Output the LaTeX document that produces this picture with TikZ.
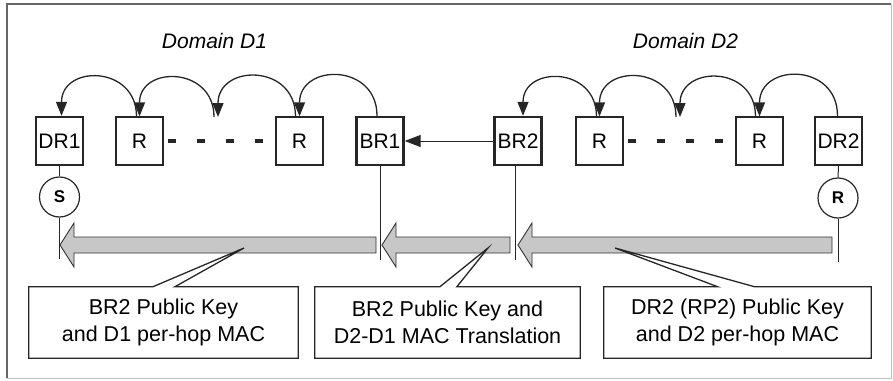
\documentclass[tikz,border=0pt]{standalone}
\usepackage{fontspec}
\setmainfont{Liberation Sans}
\usetikzlibrary{arrows.meta,calc}
\newcommand\fatarrow[2]{\path[fat] let \p1=(#1),\p2=(#2) in (\x1,\y2+8pt) -- (\x2+14pt,\y2+8pt) -- (\x2+14pt,\y2+22pt) -- (\x2,\y2) -- (\x2+14pt,\y2-22pt) -- (\x2+14pt,\y2-8pt) -- (\x1,\y2-8pt) -- cycle;}
\newcommand\calloutline[4]{\draw[callout] (#1.north west) -- ($(#1.north west)+(#2,0)$) -- (#4) -- ($(#1.north west)+(#3,0)$) -- (#1.north east) -- (#1.south east) -- (#1.south west) -- cycle;}
\begin{document}
\begin{tikzpicture}[x=1pt,y=1pt,
  thickbox/.style={draw=black!85,line width=2.4pt,minimum width=47pt,minimum height=48pt,inner sep=0pt,font=\fontsize{21}{21}\selectfont},
  thinbox/.style={thickbox,line width=1.2pt},
  endpt/.style={draw=black!85,circle,line width=1.2pt,minimum size=40pt,inner sep=0pt,font=\fontsize{17}{17}\selectfont\bfseries},
  hop/.style={draw=black!85,line width=1.3pt,-{Triangle[length=14pt,width=11pt]},out=90,in=90,looseness=1.75},
  dots/.style={draw=black!85,line width=4pt,dash pattern=on 8pt off 21pt},
  wire/.style={draw=black!85,line width=1pt},
  fat/.style={draw=black!80,line width=0.9pt,fill=black!22},
  callout/.style={draw=black!85,line width=1.3pt},
  calltext/.style={minimum height=71pt,inner sep=0pt,align=center,font=\fontsize{21.5}{27}\selectfont},
  domlabel/.style={anchor=base,font=\fontsize{21}{21}\selectfont\itshape}
]
\useasboundingbox (0,0) rectangle (893,-380);
\draw[black!60,line width=1.2pt] (7,-378) -- (7,-4) -- (891,-4);
\draw[black!25,line width=1pt] (891,-4) -- (891,-378) -- (7,-378);

% labels
\node[domlabel] (d1) at (214.5,-48) {Domain D1};
\node[domlabel] (d2) at (685.5,-48) {Domain D2};

% routers
\node[thickbox] (DR1) at (59.5,-141) {DR1};
\node[thinbox]  (R1)  at (139.5,-141) {R};
\node[thinbox]  (R2)  at (299.5,-141) {R};
\node[thickbox] (BR1) at (380,-141) {BR1};
\node[thickbox] (BR2) at (518,-141) {BR2};
\node[thinbox]  (R3)  at (599.5,-141) {R};
\node[thinbox]  (R4)  at (759.5,-141) {R};
\node[thickbox] (DR2) at (838.5,-141) {DR2};

\node[endpt] (S) at (59.5,-197) {S};
\node[endpt] (Rc) at (838,-198) {R};

\coordinate (m1) at (218,-117);
\coordinate (m2) at (680,-117);

% dots
\draw[dots] ([xshift=4pt]R1.east) -- (R2.west);
\draw[dots] ([xshift=4pt]R3.east) -- (R4.west);

% hops D1
\draw[hop] ([xshift=-3pt]BR1.north) to (R2.north);
\draw[hop] ([xshift=-4pt]R2.north) to (m1);
\draw[hop] ([xshift=-4pt]m1) to (R1.north);
\draw[hop] ([xshift=-3pt]R1.north) to ([xshift=2pt]DR1.north);
% hops D2
\draw[hop] ([xshift=-1pt]DR2.north) to (R4.north);
\draw[hop] ([xshift=-4pt]R4.north) to (m2);
\draw[hop] ([xshift=-4pt]m2) to (R3.north);
\draw[hop] ([xshift=-3pt]R3.north) to ([xshift=5pt]BR2.north);

% BR2 -> BR1
\draw[wire,-{Triangle[length=16pt,width=12pt]}] (BR2.west) -- (BR1.east);

% fat arrows
\coordinate (a1t) at (376,-245);
\coordinate (a1h) at (60,-245);
\coordinate (a2t) at (510,-245);
\coordinate (a2h) at (382,-245);
\coordinate (a3t) at (832,-245);
\coordinate (a3h) at (518,-245);
\fatarrow{a1t}{a1h}
\fatarrow{a2t}{a2h}
\fatarrow{a3t}{a3h}

% vertical wires
\coordinate (sEnd) at (59.5,-259);
\coordinate (b1End) at (380,-260);
\coordinate (b2End) at (515,-260);
\coordinate (rEnd) at (838,-262);
\draw[wire] (DR1.south) -- (S.north);
\draw[wire] (S.south) -- (sEnd);
\draw[wire] (BR1.south) -- (b1End);
\draw[wire] ([xshift=-3pt]BR2.south) -- (b2End);
\draw[wire] (DR2.south) -- (Rc.north);
\draw[wire] (Rc.south) -- (rEnd);

% callouts
\coordinate (p1) at (244,-248);
\coordinate (p2) at (488,-248);
\coordinate (p3) at (615,-248);
\node[calltext,minimum width=269pt] (c1) at (163.5,-322.5) {BR2 Public Key\\and D1 per-hop MAC};
\node[calltext,minimum width=265pt] (c2) at (447.5,-322.5) {BR2 Public Key and\\D2-D1 MAC Translation};
\node[calltext,minimum width=267pt] (c3) at (737.5,-322.5) {DR2 (RP2) Public Key\\and D2 per-hop MAC};
\calloutline{c1}{124}{146}{p1}
\calloutline{c2}{125}{142}{p2}
\calloutline{c3}{114}{151}{p3}
\end{tikzpicture}
\end{document}
